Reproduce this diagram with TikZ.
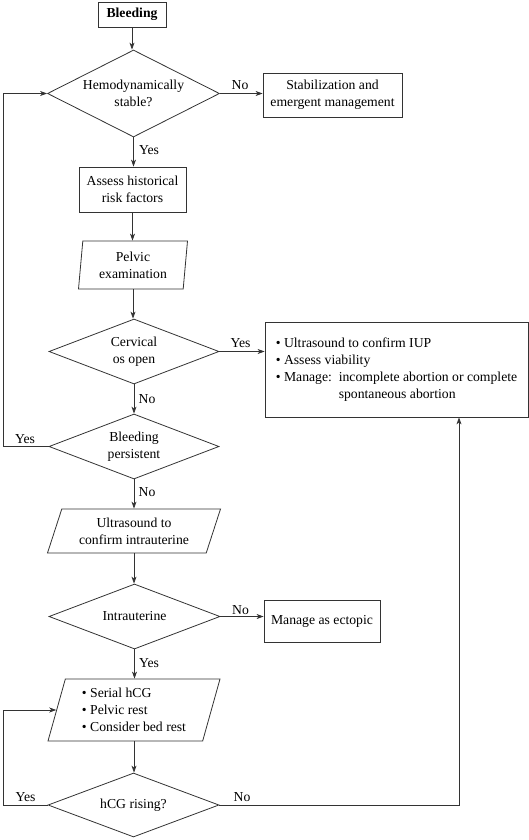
\documentclass[tikz,border=0pt]{standalone}
\usepackage{fontspec}
\setmainfont{Liberation Serif}
\usetikzlibrary{shapes.geometric,arrows.meta}
\definecolor{ln}{HTML}{333333}
\begin{document}
\begin{tikzpicture}[x=1pt,y=-1pt,
  every node/.style={font=\fontsize{13.7}{17}\selectfont, text=black},
  base/.style={draw=ln, line width=0.8pt, inner sep=2pt, align=center},
  boxnode/.style={base, rectangle},
  decision/.style={base, diamond, aspect=2, inner sep=0pt},
  para/.style={base, trapezium, trapezium stretches body},
  arr/.style={draw=ln, line width=0.8pt, -{Stealth[length=7pt,width=5pt,inset=2pt]}},
  lbl/.style={inner sep=0pt}
]
\useasboundingbox (0,0) rectangle (529,840);
\coordinate (loopx) at (3.5,0);

\node[boxnode, minimum width=68, minimum height=25, font=\fontsize{13.7}{17}\selectfont\bfseries] (bleed) at (132,14.5) {Bleeding};
\node[decision, minimum width=172, minimum height=87] (stable) at (133.5,93.5) {Hemodynamically\\stable?};
\node[boxnode, minimum width=139, minimum height=44] (stab) at (332.5,95) {Stabilization and\\emergent management};
\node[boxnode, minimum width=107, minimum height=45] (assess) at (132.5,189.5) {Assess historical\\risk factors};
\node[para, trapezium left angle=82, trapezium right angle=98, minimum width=109, minimum height=48] (pelvic) at (133,265) {Pelvic\\examination};
\node[decision, minimum width=170, minimum height=65] (cerv) at (134,351.5) {Cervical\\os open};
\node[boxnode, minimum width=263, minimum height=95, align=left] (iup) at (396.5,369.5) {\textbullet\ Ultrasound to confirm IUP\\\textbullet\ Assess viability\\\textbullet\ Manage:\ \ incomplete abortion or complete\\\hphantom{\textbullet\ Manage:\ \ }spontaneous abortion};
\node[decision, minimum width=170, minimum height=65] (persist) at (134,446.5) {Bleeding\\persistent};
\node[para, trapezium left angle=65, trapezium right angle=115, minimum width=173, minimum height=44] (us) at (134,531) {Ultrasound to\\confirm intrauterine};
\node[decision, minimum width=171, minimum height=65] (intra) at (134.5,616.5) {Intrauterine};
\node[boxnode, minimum width=116, minimum height=42] (ectopic) at (322,621) {Manage as ectopic};
\node[para, trapezium left angle=70, trapezium right angle=110, minimum width=172, minimum height=62, align=left] (serial) at (134,710) {\textbullet\ Serial hCG\\\textbullet\ Pelvic rest\\\textbullet\ Consider bed rest};
\node[decision, minimum width=171, minimum height=64] (hcg) at (133.5,805) {hCG rising?};

\draw[arr] (bleed.south) -- (bleed.south |- stable.north);
\draw[arr] (stable.east) -- (stable.east -| stab.west);
\draw[arr] (stable.south) -- (stable.south |- assess.north);
\draw[arr] (assess.south) -- (assess.south |- pelvic.north);
\draw[arr] (pelvic.south) -- (pelvic.south |- cerv.north);
\draw[arr] (cerv.east) -- (cerv.east -| iup.west);
\draw[arr] (cerv.south) -- (cerv.south |- persist.north);
\draw[arr] (persist.west) -- (persist.west -| loopx) |- (stable.west);
\draw[arr] (persist.south) -- (persist.south |- us.north);
\draw[arr] (us.south) -- (us.south |- intra.north);
\draw[arr] (intra.east) -- (intra.east -| ectopic.west);
\draw[arr] (intra.south) -- (intra.south |- serial.north);
\draw[arr] (serial.south) -- (serial.south |- hcg.north);
\draw[arr] (hcg.west) -- (hcg.west -| loopx) |- (serial.west);
\draw[arr] (hcg.east) -| ([xshift=62.5pt]iup.south);

\node[lbl] (l1) at (240,85) {No};
\node[lbl] (l2) at (149,150) {Yes};
\node[lbl] (l3) at (240.5,343) {Yes};
\node[lbl] (l4) at (147,399) {No};
\node[lbl] (l5) at (25,439) {Yes};
\node[lbl] (l6) at (147,492) {No};
\node[lbl] (l7) at (240.5,610) {No};
\node[lbl] (l8) at (149,663) {Yes};
\node[lbl] (l9) at (25.5,797) {Yes};
\node[lbl] (l10) at (242,797) {No};
\end{tikzpicture}
\end{document}
